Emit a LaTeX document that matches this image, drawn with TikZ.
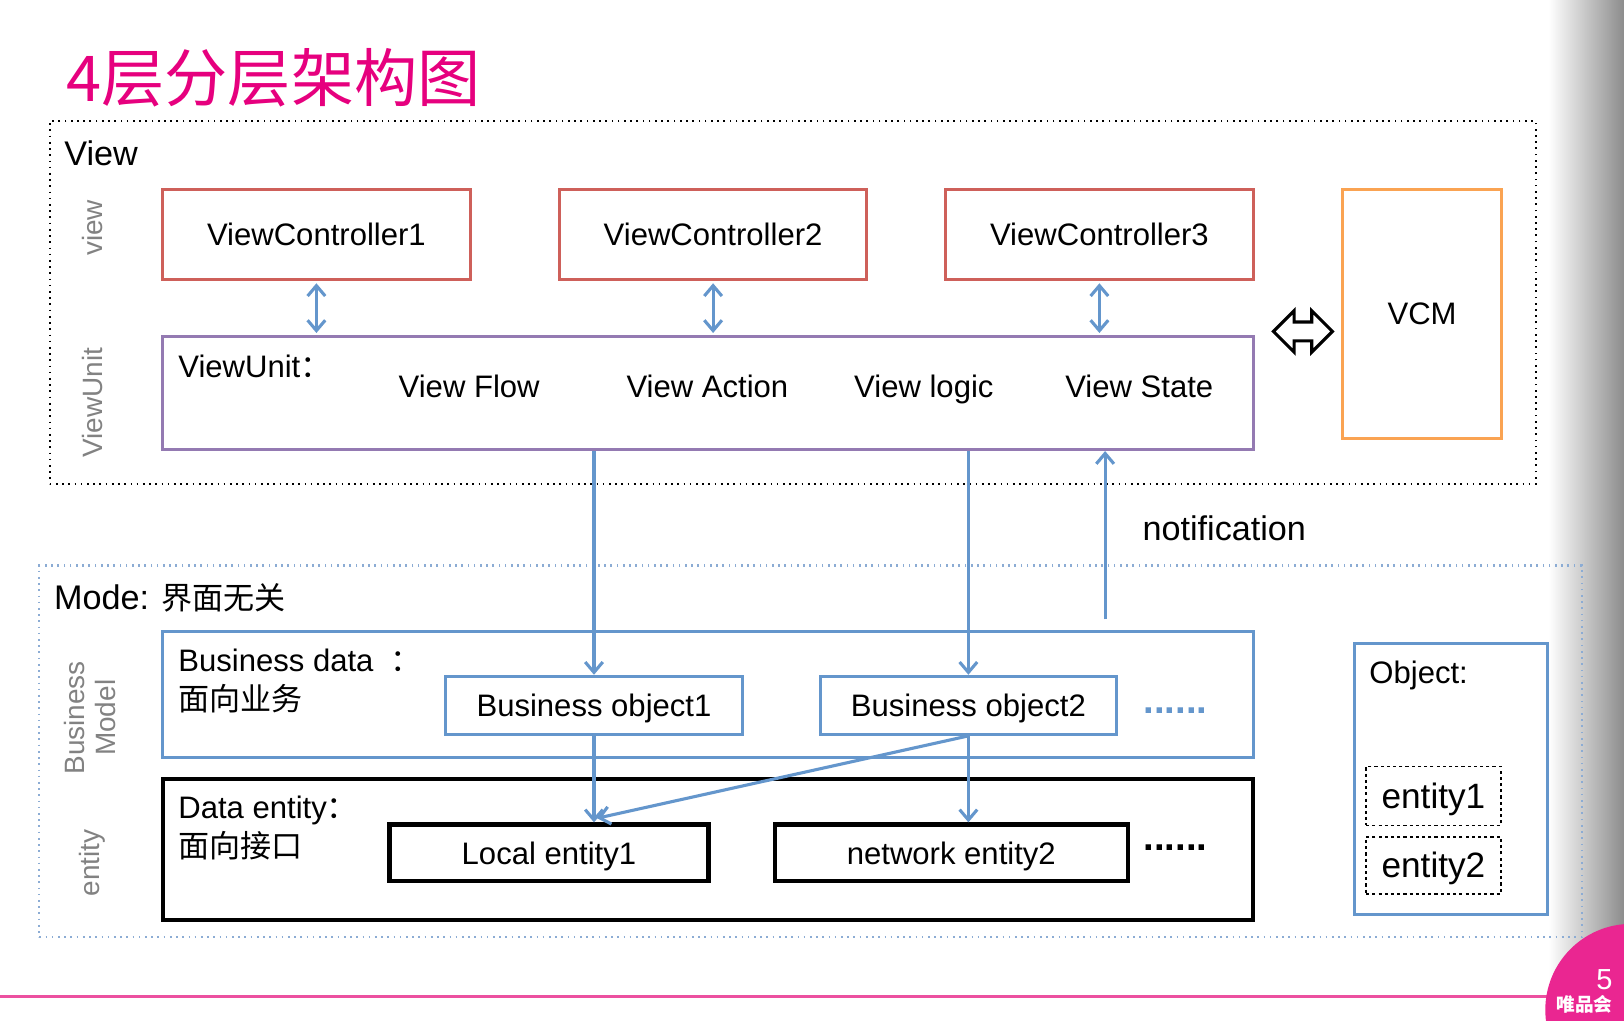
\documentclass[tikz,border=0pt]{standalone}
\usepackage{fontspec}
\setmainfont{Liberation Sans}
\newfontfamily\cjk{Noto Sans CJK SC}
\usetikzlibrary{arrows.meta,shapes.arrows,calc,positioning}
\definecolor{vipred}{RGB}{206,96,90}
\definecolor{vippurple}{RGB}{148,122,178}
\definecolor{viporange}{RGB}{250,163,82}
\definecolor{vipblue}{RGB}{100,150,204}
\definecolor{vipdot}{RGB}{140,172,212}
\definecolor{vipmagenta}{RGB}{230,0,126}
\definecolor{vippink}{RGB}{236,80,160}
\definecolor{sidegray}{RGB}{130,130,130}
\newcommand{\fsz}[1]{\fontsize{#1}{#1}\selectfont}

\begin{document}
\begin{tikzpicture}[x=1pt,y=-1pt,
  every node/.style={align=center,inner sep=0pt},
  layer/.style={draw,line width=2pt,dash pattern=on 1.6pt off 4.4pt},
  side/.style={rotate=90,text=sidegray,font=\fontsize{27}{30}\selectfont},
  lbl/.style={anchor=base west,font=\fsz{30}},
  caps/.style={font=\fsz{30},text height=21.5pt,text depth=0pt},
  vcbox/.style={caps,draw=vipred,line width=3pt,minimum width=297pt,minimum height=87pt},
  objbox/.style={caps,draw=vipblue,line width=3pt,minimum height=56pt},
  entbox/.style={caps,draw,line width=4pt,minimum height=55pt},
  dashbox/.style={draw,dashed,line width=1.5pt,minimum width=130pt,font=\fsz{34},text height=24.3pt,text depth=0pt},
  link/.style={draw=vipblue,line width=3pt,-{Straight Barb[length=10pt,width=17pt]}},
  biarrow/.style={link,{Straight Barb[length=10pt,width=17pt]}-{Straight Barb[length=10pt,width=17pt]}}]
\useasboundingbox (0,0) rectangle (1568,985);
\shade[left color=white,middle color=black!5,right color=black!45] (1495,0) rectangle (1568,985);

\node[anchor=base west,text=vipmagenta,font=\cjk\fsz{61}] (title) at (64,98) {4层分层架构图};

\node[layer,minimum width=1435pt,minimum height=350pt] (viewlayer) at (765.5,292) {};
\node[anchor=base west,font=\fsz{33}] (viewname) at (62,160) {View};
\node[side] (viewside) at (89,220) {view};
\node[side] (unitside) at (89,389) {ViewUnit};

\node[draw=vippurple,line width=3pt,minimum width=1053pt,minimum height=109pt] (unit) at (683.5,379.5) {};
\node[lbl] (unitname) at (172,364) {ViewUnit{\cjk ：}};
\node[anchor=base,font=\fsz{30}] (flow) at (453,384) {View Flow};
\node[anchor=base,font=\fsz{30}] (action) at (683,384) {View Action};
\node[anchor=base,font=\fsz{30}] (logic) at (892,384) {View logic};
\node[anchor=base,font=\fsz{30}] (state) at (1100,384) {View State};

\foreach \i/\x in {1/305.5,2/688.5,3/1061.5} {
  \node[vcbox] (vc\i) at (\x,226.5) {ViewController\i};
  \draw[biarrow,shorten <=2pt,shorten >=2pt] (vc\i.south) -- (vc\i.south |- unit.north);
}

\node[caps,draw=viporange,line width=3pt,minimum width=154pt,minimum height=240pt] (vcm) at (1373,303) {VCM};
\node[double arrow,draw,line width=3pt,fill=white,minimum height=57pt,minimum width=40pt,inner sep=6pt,double arrow head extend=9pt] (swap) at (1258,320) {};

\node[layer,draw=vipdot,minimum width=1489pt,minimum height=359pt] (modelayer) at (782.5,725.5) {};
\node[anchor=base west,font=\fsz{33}] (modename) at (52,588) {Mode: {\cjk\fsz{30}界面无关}};
\node[side] (bizside) at (87,693) {Business\\Model};
\node[side] (entside) at (89,833) {entity};

\node[draw=vipblue,line width=3pt,minimum width=1053pt,minimum height=121pt] (bdata) at (683.5,670.5) {};
\node[lbl] (bdataname) at (172,648) {Business data \ {\cjk ：}};
\node[lbl,font=\cjk\fsz{30}] (bdatanote) at (172,686) {面向业务};
\node[objbox,minimum width=287pt] (bo1) at (573.5,681) {Business object1};
\node[objbox,minimum width=286pt] (bo2) at (935,681) {Business object2};
\node[font=\bfseries\fsz{37},text=vipblue] (bdots) at (1135,686) {......};

\node[draw,line width=4pt,minimum width=1053pt,minimum height=136pt] (dentity) at (683.5,820) {};
\node[lbl] (dentityname) at (172,790) {Data entity{\cjk ：}};
\node[lbl,font=\cjk\fsz{30}] (dentitynote) at (172,828) {面向接口};
\node[entbox,minimum width=308pt] (local1) at (530,823.5) {Local entity1};
\node[entbox,minimum width=341pt] (net2) at (918.5,823.5) {network entity2};
\node[font=\bfseries\fsz{37}] (ddots) at (1135,818) {......};

\node[draw=vipblue,line width=3pt,minimum width=186pt,minimum height=262pt] (objects) at (1401,752) {};
\node[lbl] (objname) at (1322,660) {Object:};
\node[dashbox,minimum height=57pt] (ent1) at (1384,768.5) {entity1};
\node[dashbox,minimum height=55pt] (ent2) at (1384,835.5) {entity2};

\draw[link] (unit.south -| bo1.north) -- (bo1.north);
\draw[link] (unit.south -| bo2.north) -- (bo2.north);
\coordinate (notif) at (1067,598);
\draw[link] (notif) -- (notif |- unit.south);
\node[anchor=base west,font=\fsz{33}] (notifname) at (1103,522) {notification};
\draw[link] (bo1.south) -- (bo1.south |- local1.north);
\draw[link] (bo2.south) -- (bo2.south |- net2.north);
\draw[link] (bo2.south) -- ($(bo1.south |- local1.north)+(3,-4)$);

\draw[line width=2.5pt,vippink] (0,962) -- (1500,962);
\fill[vipmagenta!85!white] (1575,975) circle (83);
\node[text=white,font=\fsz{28}] (pageno) at (1549,946) {5};
\node[text=white,font=\cjk\bfseries\fsz{18}] (brand) at (1530,970) {唯品会};
\end{tikzpicture}
\end{document}
